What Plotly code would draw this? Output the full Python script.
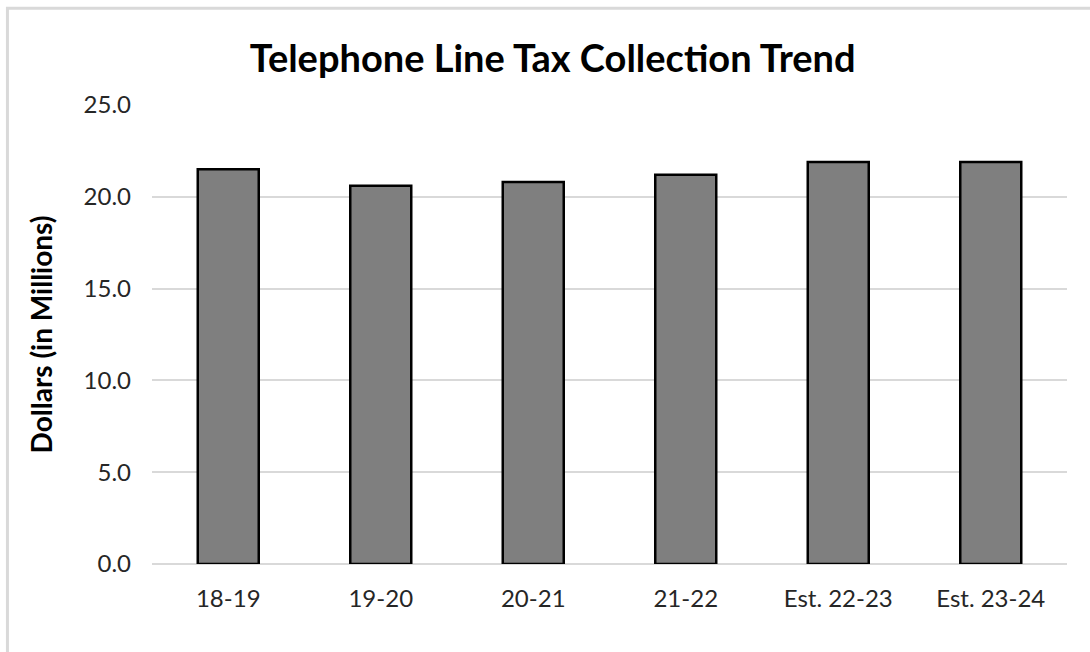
import plotly.graph_objects as go

# Fiscal years and telephone line tax collections (millions of dollars)
years = ["18-19", "19-20", "20-21", "21-22", "Est. 22-23", "Est. 23-24"]
collections = [21.5, 20.6, 20.8, 21.2, 21.9, 21.9]
y_ticks = [0, 5, 10, 15, 20, 25]
y_tick_text = ["0.0", "5.0", "10.0", "15.0", "20.0", "25.0"]

FONT = "Lato, 'Open Sans', sans-serif"

fig = go.Figure(
    go.Bar(
        x=years,
        y=collections,
        marker=dict(color="#7f7f7f", line=dict(color="#000000", width=2.5)),
        width=0.4,
        hoverinfo="x+y",
    )
)

fig.update_layout(
    width=1090,
    height=652,
    paper_bgcolor="white",
    plot_bgcolor="white",
    margin=dict(l=152, r=23, t=105, b=88),
    showlegend=False,
    title=dict(
        text="<b>Telephone Line Tax Collection Trend</b>",
        x=0.507,
        xanchor="center",
        y=0.91,
        yanchor="middle",
        font=dict(family=FONT, size=38, color="#000000"),
    ),
    font=dict(family=FONT, size=24, color="#262626"),
    xaxis=dict(
        showgrid=False,
        showline=False,
        zeroline=False,
        ticks="",
        ticklabelstandoff=18,
        tickfont=dict(size=24, color="#262626"),
    ),
    yaxis=dict(
        range=[0, 25],
        tickvals=y_ticks,
        ticktext=y_tick_text,
        showgrid=True,
        gridcolor="#d9d9d9",
        gridwidth=2,
        zeroline=True,
        zerolinecolor="#d9d9d9",
        zerolinewidth=2,
        showline=False,
        ticks="",
        ticklabelstandoff=20,
        tickfont=dict(size=24, color="#262626"),
        title=dict(
            text="<b>Dollars (in Millions)</b>",
            font=dict(size=28, color="#000000"),
            standoff=22,
        ),
    ),
    shapes=[
        dict(
            type="rect",
            xref="paper",
            yref="paper",
            x0=-0.158,
            x1=1.2,
            y0=-0.5,
            y1=1.211,
            line=dict(color="#d9d9d9", width=3),
            fillcolor="rgba(0,0,0,0)",
            layer="below",
        )
    ],
)

fig.write_html("out.html")
